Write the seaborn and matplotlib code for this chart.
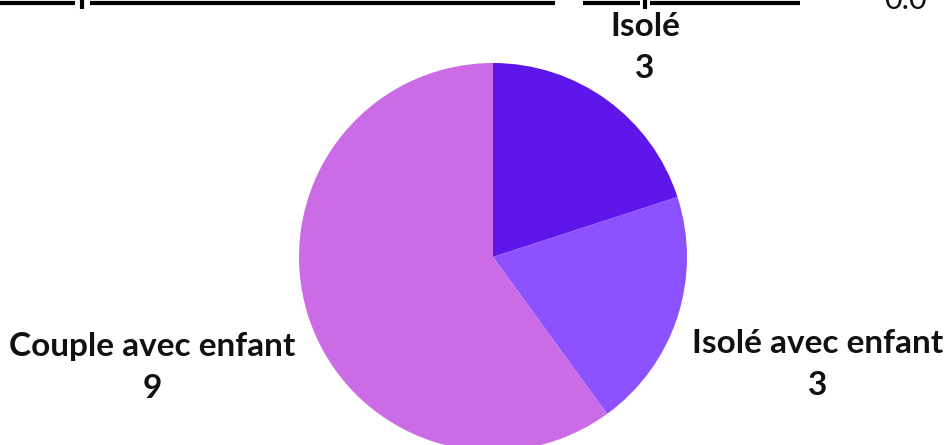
import numpy as np
import matplotlib
matplotlib.use("Agg")
import matplotlib.pyplot as plt
import seaborn as sns
from matplotlib.lines import Line2D

categories = ["Isolé", "Isolé avec enfant", "Couple avec enfant"]
counts = [3, 3, 9]
colors = ["#5E17EB", "#8C52FF", "#CB6CE6"]

sns.set_theme(style="white")
plt.rcParams['font.family'] = ['Lato', 'DejaVu Sans']

fig = plt.figure(figsize=(9.47, 4.45), dpi=100)
W, H = 947, 445

# pie: centre ~ (493, 257) px, radius ~194 px
cx, cy, r = 493, 257, 194
ax = fig.add_axes([(cx - r) / W, (H - cy - r) / H, 2 * r / W, 2 * r / H])
wedges, _ = ax.pie(counts, colors=colors, startangle=90, counterclock=False,
                   radius=1, wedgeprops=dict(linewidth=0))
ax.set_xlim(-1, 1)
ax.set_ylim(-1, 1)
ax.set_aspect("equal")
ax.axis("off")

# label placement: (distance in radii, horizontal alignment, vertical shift)
label_style = [(1.333, "center", 0.0), (1.08, "left", -0.22), (1.07, "right", -0.24)]
for w, cat, n, (dist, ha, dy) in zip(wedges, categories, counts, label_style):
    ang = np.deg2rad((w.theta1 + w.theta2) / 2)
    x, y = dist * np.cos(ang), dist * np.sin(ang) + dy
    ax.text(x, y, f"{cat}\n{n}", ha=ha, va="center", fontsize=24, fontweight="bold",
            color="#111111", linespacing=1.55, multialignment="center",
            clip_on=False)

# remnants of the chart above (cut off at the top edge)
yl = 1 - 3 / H
for x0, x1 in [(0, 75), (90, 555), (583, 640), (650, 800)]:
    fig.add_artist(Line2D([x0 / W, x1 / W], [yl, yl], color="black", lw=3,
                          solid_capstyle="butt"))
for xt in [82, 645]:
    fig.add_artist(Line2D([xt / W, xt / W], [1, 1 - 9 / H], color="black", lw=3,
                          solid_capstyle="butt"))
fig.text(905 / W, 1 - 9 / H, "0.0", ha="center", va="baseline", fontsize=22,
         color="#111111")

fig.savefig("out.png", dpi=100)
